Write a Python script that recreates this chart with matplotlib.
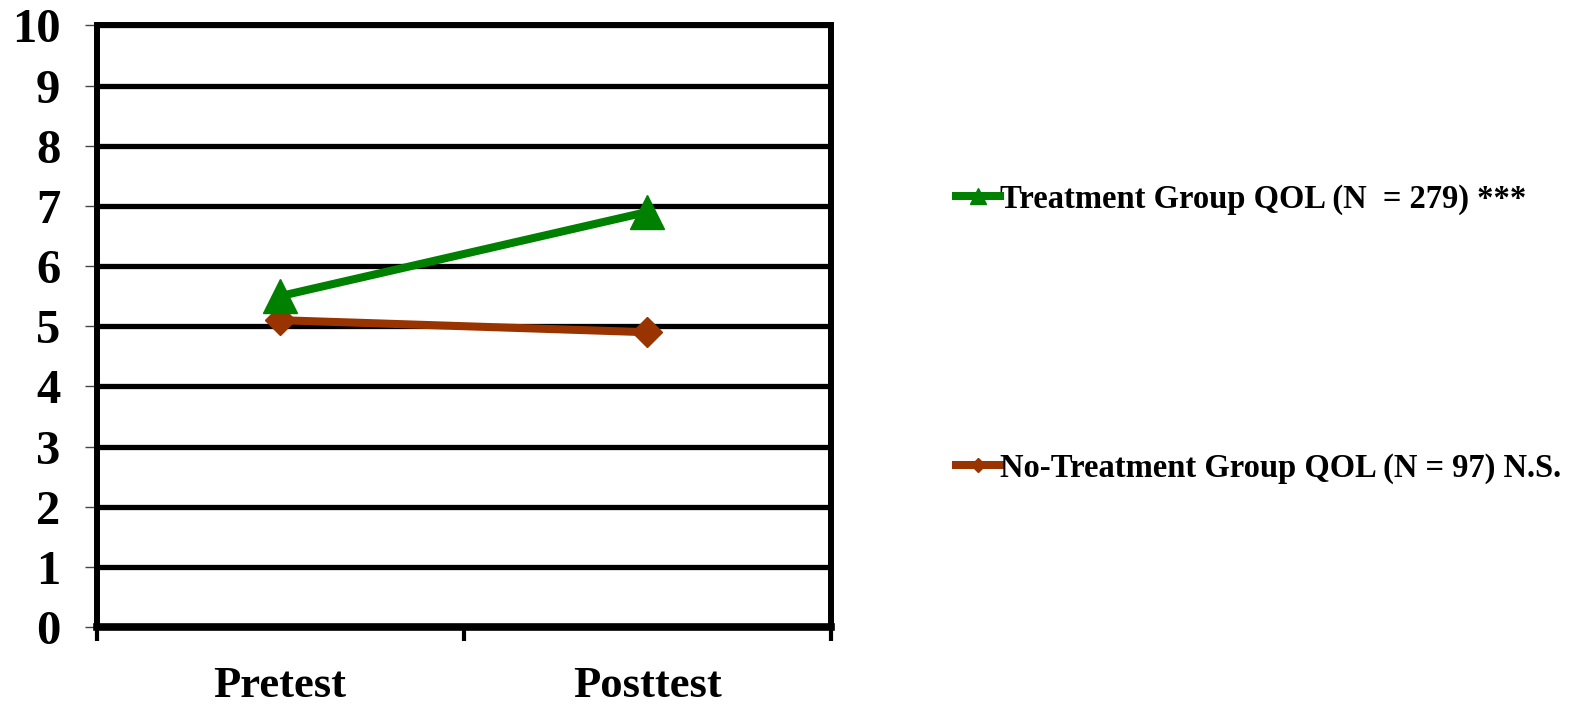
import numpy as np
import matplotlib.pyplot as plt
from matplotlib.ticker import FixedLocator

# data
phases = ["Pretest", "Posttest"]
treatment_qol = [5.5, 6.9]
no_treatment_qol = [5.1, 4.9]
treatment_label = "Treatment Group QOL (N  = 279) ***"
no_treatment_label = "No-Treatment Group QOL (N = 97) N.S."
y_ticks = list(range(0, 11))

plt.rcParams['font.family'] = ['Liberation Serif', 'DejaVu Serif']
plt.rcParams['font.weight'] = 'bold'

fig = plt.figure(figsize=(15.93, 7.05), dpi=100)
ax = fig.add_axes([0.0606, 0.1106, 0.4611, 0.8534])

x = np.arange(len(phases))

#horizontal grid lines
for yv in y_ticks[1:]:
    ax.axhline(yv, color="black", lw=3.8, zorder=1)

ax.plot(x, no_treatment_qol, color="#993300", lw=5.8, marker="D", markersize=15,
        label=no_treatment_label, zorder=3)
ax.plot(x, treatment_qol, color="#008000", lw=5.8, marker="^", markersize=24,
        label=treatment_label, zorder=4)

ax.set_xlim(-0.5, 1.5)
ax.set_ylim(0, 10)
ax.set_yticks(y_ticks)
ax.set_yticklabels([str(v) for v in y_ticks], fontsize=35, fontweight="bold")
ax.tick_params(axis="y", length=9, width=1, color="#444444", pad=17)

ax.set_xticks(x)
ax.set_xticklabels(phases, fontsize=32, fontweight="bold")
ax.tick_params(axis="x", which="major", length=0, pad=28)
ax.xaxis.set_minor_locator(FixedLocator([-0.5, 0.5, 1.5]))
ax.tick_params(axis="x", which="minor", length=10, width=3, color="black")

for side in ["left", "right", "top"]:
    ax.spines[side].set_linewidth(4.3)
ax.spines["bottom"].set_linewidth(5.5)

# legend: treatment first
handles, labels = ax.get_legend_handles_labels()
leg = fig.legend(handles[::-1], labels[::-1], loc="upper left",
                 bbox_to_anchor=(0.59, 0.763), frameon=False,
                 prop={"family": "Liberation Serif", "weight": "bold", "size": 23.5},
                 handlelength=1.35, handletextpad=0.0, labelspacing=7.3,
                 markerscale=0.5, borderpad=0)

fig.savefig("out.png", dpi=100)
